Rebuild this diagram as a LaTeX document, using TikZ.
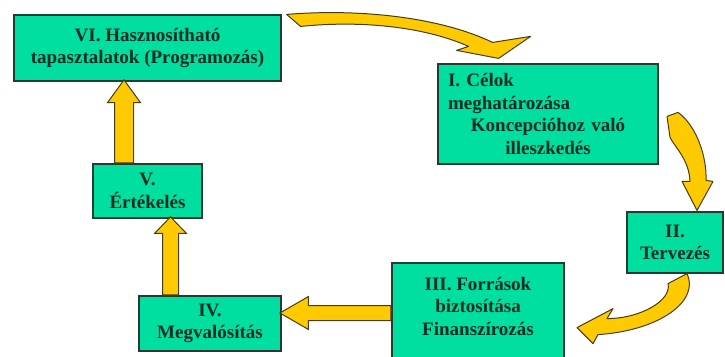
\documentclass[tikz,border=0pt]{standalone}
\usepackage{fontspec}
\setmainfont{Liberation Serif}
\usepackage{tikz}
\usetikzlibrary{shapes,arrows,positioning,calc}
\usepackage{xcolor}
\definecolor{boxgreen}{RGB}{0,222,160}
\definecolor{boxline}{RGB}{35,60,50}
\definecolor{boxtext}{RGB}{10,45,35}
\definecolor{arrowyellow}{RGB}{255,202,0}
\definecolor{arrowline}{RGB}{70,60,25}

\tikzset{
  stepbox/.style={draw=boxline,fill=boxgreen,text=boxtext,line width=1.2pt,
                  inner sep=0pt,align=center,
                  font=\fontsize{19}{22.5}\selectfont\bfseries},
  fatarrow/.style={single arrow,draw=arrowline,fill=arrowyellow,line width=1pt,
                   inner xsep=0pt,anchor=tail},
  bentarrow/.style={draw=arrowline,fill=arrowyellow,line width=1pt,line join=round}
}

\begin{document}
\begin{tikzpicture}[x=1pt,y=-1pt]
    \useasboundingbox (0,0) rectangle (725,356);

    \node[stepbox,minimum width=267,minimum height=66] (vi) at (147.5,48) {
        VI. Hasznosítható\\
        tapasztalatok (Programozás)
    };
    \node[stepbox,align=left,text width=200pt,inner xsep=10pt,
          minimum height=100] (i) at (548,114) {
        I. Célok\\
        meghatározása\\
        \hfill Koncepcióhoz való\hfill\mbox{}\\
        \hfill illeszkedés\hfill\mbox{}
    };
    \node[stepbox,minimum width=96,minimum height=61] (ii) at (675,242.5) {
        II.\\
        Tervezés
    };
    \node[stepbox,minimum width=172,minimum height=96,text depth=10pt] (iii) at (478,311) {
        III. Források\\
        biztosítása\\
        Finanszírozás
    };
    \node[stepbox,minimum width=142,minimum height=55] (iv) at (210,323.5) {
        IV.\\
        Megvalósítás
    };
    \node[stepbox,minimum width=109,minimum height=54] (v) at (147.5,191) {
        V.\\
        Értékelés
    };

    % straight arrows
    \node[fatarrow,rotate=90,minimum height=83,inner ysep=9pt,
          single arrow head extend=7pt,single arrow tip angle=72]
          (a56) at ($(v.north)+(-23.5,0)$) {};
    \node[fatarrow,rotate=90,minimum height=78,inner ysep=7.5pt,
          single arrow head extend=8pt,single arrow tip angle=88]
          (a45) at ($(iv.north)+(-39.5,0)$) {};
    \node[fatarrow,rotate=180,minimum height=111,inner ysep=7pt,
          single arrow head extend=9pt,single arrow tip angle=60]
          (a34) at ($(iii.west)+(0,2)$) {};

    % curved arrows
    \filldraw[bentarrow,shift={(vi.north east)}]
        (5,0) .. controls (79,-6) and (159,3) .. (211,28)
        -- (249,22) -- (217,44) -- (175,36) -- (187,32)
        .. controls (149,15) and (89,5) .. (19,12) -- cycle;
    \filldraw[bentarrow,shift={(ii.north)}]
        (-8,-95) -- (3,-99) .. controls (20,-87) and (32,-57) .. (31,-31)
        -- (38,-30) -- (22,-1) -- (7,-30) -- (15,-30)
        .. controls (14,-52) and (0,-64) .. (-5,-74) -- cycle;
    \filldraw[bentarrow,shift={(ii.south)}]
        (12,0) .. controls (25,27) and (-15,57) .. (-77,61)
        -- (-82,70) -- (-98,54) -- (-62,35) -- (-68,45)
        .. controls (-35,45) and (-3,27) .. (-7,10) -- cycle;
\end{tikzpicture}
\end{document}
